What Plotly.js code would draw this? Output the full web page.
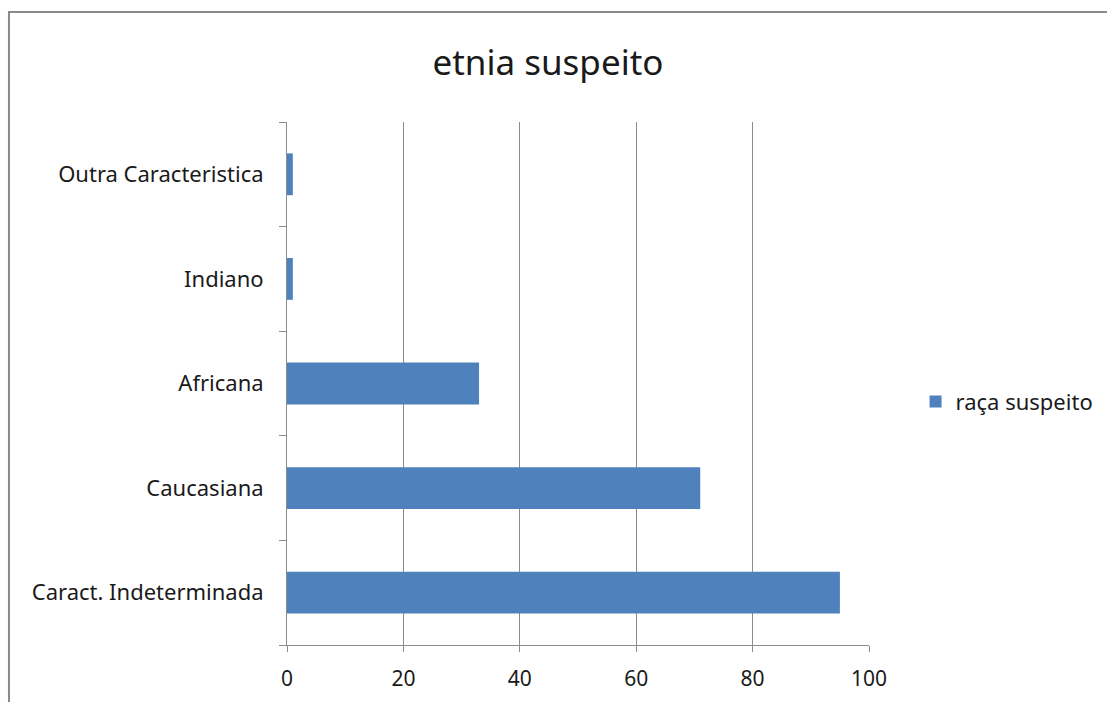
<!DOCTYPE html>
<html>
<head>
<meta charset="utf-8">
<script src="https://cdn.plot.ly/plotly-3.0.1.min.js"></script>
<style>html,body{margin:0;padding:0;background:#fff;}#chart{width:1107px;height:702px;}</style>
</head>
<body>
<div id="chart"></div>
<script>
const categories = ["Caract. Indeterminada", "Caucasiana", "Africana", "Indiano", "Outra Caracteristica"];
const values = [95, 71, 33, 1, 1];
const seriesName = "raça suspeito";
const chartTitle = "etnia suspeito";
const xTicks = [0, 20, 40, 60, 80, 100];

const FONT = "Noto Sans, Open Sans, sans-serif";
const TXT = "#1a1a1a";
const GRID = "#8c8c8c";

const trace = {
  type: "bar",
  orientation: "h",
  y: categories,
  x: values,
  name: seriesName,
  marker: {color: "#4F81BD"},
  showlegend: true
};

const layout = {
  width: 1107, height: 702,
  margin: {l: 287, r: 238, t: 122, b: 57, pad: 0, autoexpand: false},
  paper_bgcolor: "#ffffff",
  plot_bgcolor: "#ffffff",
  font: {family: FONT, color: TXT, size: 22},
  title: {text: chartTitle, font: {family: FONT, size: 35, color: TXT}, x: 0.495, xanchor: "center", y: 0.91, yanchor: "middle"},
  bargap: 0.6,
  showlegend: true,
  legend: {x: 1.08, xref: "paper", y: 0.465, yanchor: "middle", xanchor: "left", font: {family: FONT, size: 22, color: TXT}, itemwidth: 30, bgcolor: "rgba(0,0,0,0)"},
  xaxis: {
    range: [0, 100], tickvals: xTicks, ticktext: xTicks.map(String),
    showgrid: true, gridcolor: GRID, gridwidth: 1,
    showline: true, linecolor: GRID, linewidth: 1,
    ticks: "outside", ticklen: 6, tickcolor: GRID,
    ticklabelstandoff: 9,
    zeroline: false, fixedrange: true, automargin: false,
    tickfont: {family: FONT, size: 21, color: TXT}
  },
  yaxis: {
    type: "category", categoryorder: "array", categoryarray: categories,
    showgrid: false, showline: true, linecolor: GRID, linewidth: 1,
    ticks: "outside", ticklen: 7, tickcolor: GRID, tickson: "boundaries",
    ticklabelstandoff: 18, automargin: false,
    tickfont: {family: FONT, size: 22, color: TXT}, fixedrange: true
  },
  shapes: [{
    type: "rect", xref: "paper", yref: "paper",
    x0: -0.4777, x1: 1.42, y0: -0.13, y1: 1.2103,
    line: {color: "#8a8a8a", width: 2}, fillcolor: "rgba(0,0,0,0)", layer: "below"
  }]
};

Plotly.newPlot("chart", [trace], layout, {displayModeBar: false, staticPlot: true});
</script>
</body>
</html>
